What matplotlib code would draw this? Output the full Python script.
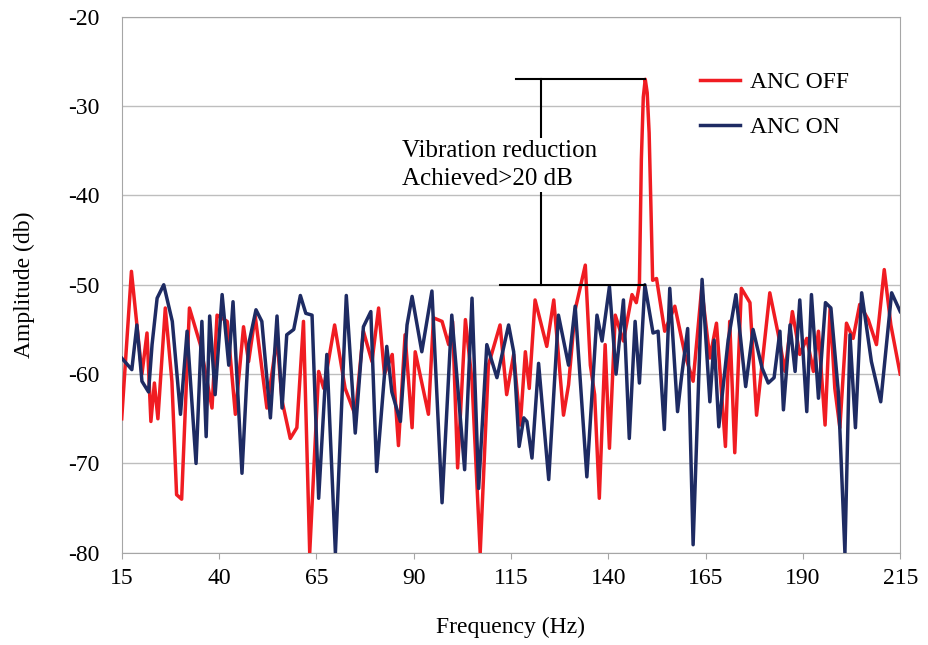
import matplotlib.pyplot as plt

plt.rcParams['font.family'] = ['Liberation Serif', 'DejaVu Serif']
plt.rcParams['axes.unicode_minus'] = False

# ANC OFF (red) : frequency (Hz) and amplitude (dB)
off_freq = [15, 17.5, 20.2, 21.5, 22.5, 23.4, 24.3, 26.2, 27.9, 29.1, 30.4, 32.4,
            35.2, 38.2, 39.5, 42.1, 44.2, 46.3, 47.6, 49.3, 52.3, 54.9, 56.2, 58.3,
            60, 61.7, 63.3, 65.6, 66.9, 69.7, 72.4, 75, 77.1, 79.3, 81, 82.5, 84.5,
            86.1, 87.8, 89.6, 90.4, 92.6, 93.8, 95.1, 97.3, 99, 100, 101.3, 103.3,
            105, 107.1, 109.2, 112.2, 113.9, 115.7, 117.4, 118.7, 119.7, 121.2,
            124.2, 126, 128.5, 129.8, 131.5, 134.1, 135.4, 136.5, 137.7, 139.2,
            140.3, 141.8, 143.9, 146.1, 147.2, 148.0, 148.5, 149.0, 149.5, 150.0,
            150.5, 151.0, 151.4, 152.4, 154.5, 157.1, 159.7, 161.8, 164, 166.1,
            167.8, 170.1, 171.2, 172.5, 174.2, 176.4, 178.1, 181.5, 183.7, 185.4,
            187.3, 189.2, 191, 192.7, 194, 195.7, 197, 198.2, 199.5, 201.2, 202.9,
            204.6, 206.8, 208.9, 210.9, 212.6, 215]
off_amp = [-65, -48.5, -60, -55.4, -65.3, -61, -65, -52.6, -60.8, -73.5, -74, -52.6,
           -56.7, -63.8, -53.4, -54.1, -64.5, -54.7, -58.6, -53.5, -63.8, -56, -63, -67.2,
           -66, -54.1, -80, -59.7, -61.6, -54.5, -61.6, -64.6, -55.2, -58.6, -52.6, -60, -57.8,
           -68, -55.6, -66, -57.5, -62, -64.5, -53.7, -54.1, -56.7, -54.1, -70.5, -53.9,
           -60.8, -80, -59, -54.5, -62.3, -57.8, -65.7, -57.5, -61.6, -51.7,
           -56.9, -51.7, -64.6, -61.2, -52.8, -47.8, -59, -62.3, -73.9, -56.7,
           -68.3, -53.4, -56.3, -51.1, -52, -50, -36, -29, -27, -28.5,
           -33, -42, -49.5, -49.3, -55.2, -52.4, -57.8, -60.8, -50.4, -58.2,
           -54.3, -68.1, -54.1, -68.8, -50.4, -52, -64.6, -50.9, -55.6, -59.7,
           -53, -57.8, -56, -59.7, -55.2, -65.7, -52.6, -61.6, -66, -54.3, -56,
           -52.2, -53.9, -56.7, -48.3, -54.5, -60]

# ANC ON (blue)
on_freq = [15, 17.6, 18.9, 20.2, 21.9, 22.8, 24.1, 25.8, 28, 30.1, 31.8, 34.1, 35.6,
           36.7, 37.6, 39, 40.8, 42.5, 43.6, 45.9, 47.6, 49.5, 51, 53.2, 54.9, 56.2,
           57.4, 59.2, 60.9, 62.3, 63.9, 65.6, 67.7, 69.9, 72.7, 75, 77.1, 79, 80.5,
           83.1, 84.4, 86.6, 88.3, 89.6, 92.1, 94.7, 97.3, 99.8, 103.1, 105, 106.7,
           108.8, 111.4, 114.4, 115.7, 117.1, 118.3, 119.1, 120.4, 122.1, 124.7,
           127.2, 129.8, 131.5, 134.5, 137.1, 138.4, 140.3, 142, 143.9, 145.4,
           146.9, 148, 149.4, 151.5, 152.8, 154.4, 155.8, 157.8, 158.8, 160.4,
           161.8, 164.1, 166.1, 167.2, 168.4, 170.8, 172.8, 175.3, 177.2, 179.5,
           181.1, 182.6, 184.1, 185, 186.7, 188, 189.2, 191, 192.2, 194, 195.8,
           197.2, 199.1, 200.8, 202.1, 203.5, 205.1, 207.6, 210, 212.8, 215]
on_amp = [-58.2, -59.5, -54.5, -60.8, -62, -56.7, -51.5, -50, -54.1, -64.5, -55.2, -70, -54.1,
          -67, -53.5, -62.3, -51.1, -59, -51.9, -71.1, -56.7, -52.8, -54.1, -64.9, -53.5, -63.8,
          -55.6, -55, -51.2, -53.2, -53.4, -73.9, -57.8, -80, -51.2, -66.6, -54.7, -53, -70.9,
          -56.9, -62, -65.3, -54.5, -51.3, -57.5, -50.7, -74.4, -53.4, -70.7, -51.5, -72.8,
          -56.7, -60.4, -54.5, -57.5, -68.1, -64.9, -65.3, -69.4, -58.8, -71.8,
          -53.4, -59, -52.4, -71.5, -53.4, -56.3, -50.2, -60, -51.7, -67.2,
          -54.1, -61, -50, -55.4, -55.2, -66.2, -50.4, -64.2, -60.4, -54.9,
          -79.1, -49.4, -63.1, -56.2, -65.9, -56.2, -51.1, -61.4, -55, -59.3,
          -61, -60.4, -55.2, -64, -54.5, -59.7, -51.7, -64.2, -51.1, -62.7, -52,
          -52.6, -62, -80, -55.6, -66, -50.9, -58.6, -63.1, -50.9, -53]

x_ticks = list(range(15, 216, 25))
y_ticks = list(range(-80, -19, 10))

fig = plt.figure(figsize=(9.29, 6.45), dpi=100)
ax = fig.add_axes([0.131, 0.143, 0.838, 0.831])

ax.plot(off_freq, off_amp, color='#F01C22', lw=2.5, label='ANC OFF', zorder=3)
ax.plot(on_freq, on_amp, color='#1E2B63', lw=2.5, label='ANC ON', zorder=4)

ax.set_xlim(15, 215)
ax.set_ylim(-80, -20)
ax.set_xticks(x_ticks)
ax.set_yticks(y_ticks)
ax.grid(axis='y', color='#BEBEBE', lw=1)
ax.set_axisbelow(True)
for s in ax.spines.values():
    s.set_color('#A6A6A6')
ax.tick_params(axis='y', length=0, pad=16, labelsize=17)
ax.tick_params(axis='x', length=4, color='#A6A6A6', pad=7, labelsize=17)

ax.set_xlabel('Frequency (Hz)', fontsize=17, labelpad=20)
ax.set_ylabel('Amplitude (db)', fontsize=17, labelpad=24)

# reduction annotation
ax.plot([116.4, 149.5], [-27, -27], color='black', lw=1.5, zorder=5)
ax.plot([112.3, 149.5], [-50, -50], color='black', lw=1.5, zorder=5)
ax.plot([122.6, 122.6], [-27, -50], color='black', lw=1.5, zorder=5)
ax.text(87.1, -36.6, 'Vibration reduction\nAchieved>20 dB', fontsize=18,
        va='center', ha='left', linespacing=1.4, zorder=6,
        bbox=dict(facecolor='white', edgecolor='none', pad=1))

ax.legend(loc='upper left', bbox_to_anchor=(0.731, 0.916), frameon=False,
          fontsize=17, handlelength=1.7, handletextpad=0.42, labelspacing=1.0,
          borderaxespad=0, borderpad=0.4)

fig.savefig('out.png', dpi=100)
